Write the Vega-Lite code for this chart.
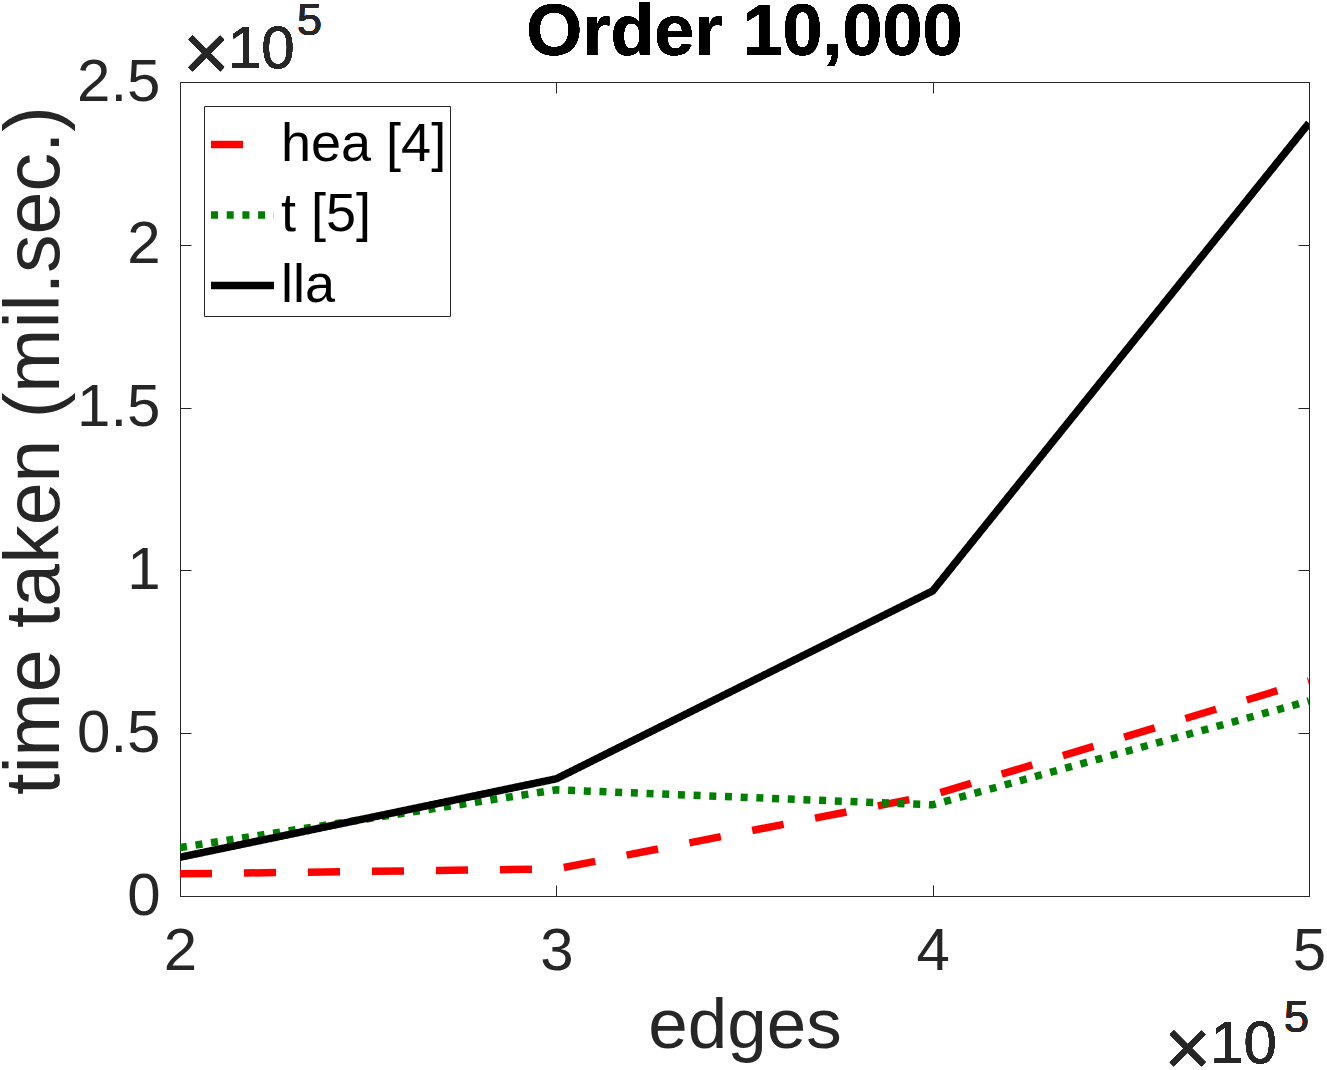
{
  "$schema": "https://vega.github.io/schema/vega-lite/v6.json",
  "width": 1129,
  "height": 814,
  "autosize": {"type": "none"},
  "padding": {"left": 180, "top": 82, "right": 18, "bottom": 174},
  "background": "white",
  "config": {
    "font": "Liberation Sans",
    "view": {"stroke": "#262626", "strokeWidth": 1},
    "axis": {
      "grid": false,
      "domain": false,
      "tickColor": "#262626",
      "tickWidth": 1,
      "tickSize": -11,
      "labelColor": "#262626",
      "labelFont": "Liberation Sans",
      "labelFontSize": 60,
      "labelFlush": false,
      "titleFont": "Liberation Sans",
      "titleFontSize": 71,
      "titleFontWeight": "normal",
      "titleColor": "#262626"
    }
  },
  "data": {
    "values": [
      {"edges": 200000, "time": 6800, "series": "hea [4]"},
      {"edges": 300000, "time": 8300, "series": "hea [4]"},
      {"edges": 400000, "time": 31000, "series": "hea [4]"},
      {"edges": 500000, "time": 66000, "series": "hea [4]"},
      {"edges": 200000, "time": 14900, "series": "t [5]"},
      {"edges": 300000, "time": 32600, "series": "t [5]"},
      {"edges": 400000, "time": 28000, "series": "t [5]"},
      {"edges": 500000, "time": 59900, "series": "t [5]"},
      {"edges": 200000, "time": 11900, "series": "lla"},
      {"edges": 300000, "time": 36000, "series": "lla"},
      {"edges": 400000, "time": 93700, "series": "lla"},
      {"edges": 500000, "time": 237400, "series": "lla"}
    ]
  },
  "resolve": {"axis": {"x": "independent", "y": "independent"}},
  "layer": [
    {
      "mark": {"type": "line", "clip": true},
      "encoding": {
        "x": {
          "field": "edges", "type": "quantitative",
          "scale": {"domain": [200000, 500000], "nice": false, "zero": false},
          "axis": {
            "orient": "bottom",
            "values": [200000, 300000, 400000, 500000],
            "labelExpr": "'' + datum.value / 100000",
            "labelPadding": 37,
            "title": "edges",
            "titlePadding": 10
          }
        },
        "y": {
          "field": "time", "type": "quantitative",
          "scale": {"domain": [0, 250000], "nice": false},
          "axis": {
            "orient": "left",
            "values": [0, 50000, 100000, 150000, 200000, 250000],
            "labelExpr": "'' + datum.value / 100000",
            "labelPadding": 31,
            "title": "time taken (mil.sec.)",
            "titleFontSize": 77,
            "titleBaseline": "alphabetic",
            "titleAnchor": "middle",
            "titleX": -122,
            "titleY": 368
          }
        },
        "color": {
          "field": "series", "type": "nominal",
          "scale": {"domain": ["hea [4]", "t [5]", "lla"], "range": ["#FF0000", "#008000", "#000000"]},
          "legend": {
            "title": null,
            "orient": "none",
            "legendX": 24,
            "legendY": 24,
            "symbolType": "stroke",
            "symbolSize": 3969,
            "symbolStrokeWidth": 7,
            "labelFont": "Liberation Sans",
            "labelFontSize": 54,
            "labelColor": "#000000",
            "labelOffset": 3,
            "labelLimit": 400,
            "strokeColor": "#262626",
            "fillColor": "white",
            "padding": 3,
            "rowPadding": 7.5
          }
        },
        "strokeDash": {
          "field": "series", "type": "nominal",
          "scale": {"domain": ["hea [4]", "t [5]", "lla"], "range": [[32, 32], [7, 8.7], [1, 0]]},
          "legend": {
            "title": null,
            "orient": "none",
            "legendX": 24,
            "legendY": 24,
            "symbolType": "stroke",
            "symbolSize": 3969,
            "symbolStrokeWidth": 7,
            "labelFont": "Liberation Sans",
            "labelFontSize": 54,
            "labelColor": "#000000",
            "labelOffset": 3,
            "labelLimit": 400,
            "strokeColor": "#262626",
            "fillColor": "white",
            "padding": 3,
            "rowPadding": 7.5
          }
        },
        "strokeWidth": {
          "field": "series", "type": "nominal",
          "scale": {"domain": ["hea [4]", "t [5]", "lla"], "range": [7.5, 7.5, 9]},
          "legend": null
        },
        "order": {"field": "edges", "type": "quantitative"}
      }
    },
    {
      "mark": {"type": "line", "opacity": 0},
      "encoding": {
        "x": {
          "field": "edges", "type": "quantitative",
          "axis": {"orient": "top", "values": [200000, 300000, 400000, 500000], "labels": false, "title": null}
        },
        "y": {
          "field": "time", "type": "quantitative",
          "axis": {"orient": "right", "values": [0, 50000, 100000, 150000, 200000, 250000], "labels": false, "title": null}
        },
        "detail": {"field": "series", "type": "nominal"}
      }
    },
    {
      "mark": {"type": "text", "align": "center", "baseline": "alphabetic", "fontSize": 72, "fontWeight": "bold", "color": "#000000", "dy": -27},
      "encoding": {
        "x": {"datum": 350000, "type": "quantitative", "axis": null},
        "y": {"datum": 250000, "type": "quantitative", "axis": null},
        "text": {"value": "Order 10,000"}
      }
    },
    {
      "mark": {"type": "text", "align": "left", "baseline": "alphabetic", "fontSize": 80, "color": "#262626", "dx": 3, "dy": -2},
      "encoding": {
        "x": {"datum": 200000, "type": "quantitative", "axis": null},
        "y": {"datum": 250000, "type": "quantitative", "axis": null},
        "text": {"value": "×"}
      }
    },
    {
      "mark": {"type": "text", "align": "left", "baseline": "alphabetic", "fontSize": 60, "color": "#262626", "dx": 48, "dy": -14},
      "encoding": {
        "x": {"datum": 200000, "type": "quantitative", "axis": null},
        "y": {"datum": 250000, "type": "quantitative", "axis": null},
        "text": {"value": "10"}
      }
    },
    {
      "mark": {"type": "text", "align": "left", "baseline": "alphabetic", "fontSize": 45, "color": "#262626", "dx": 117, "dy": -47},
      "encoding": {
        "x": {"datum": 200000, "type": "quantitative", "axis": null},
        "y": {"datum": 250000, "type": "quantitative", "axis": null},
        "text": {"value": "5"}
      }
    },
    {
      "mark": {"type": "text", "align": "right", "baseline": "alphabetic", "fontSize": 80, "color": "#262626", "dx": -98, "dy": 179},
      "encoding": {
        "x": {"datum": 500000, "type": "quantitative", "axis": null},
        "y": {"datum": 0, "type": "quantitative", "axis": null},
        "text": {"value": "×"}
      }
    },
    {
      "mark": {"type": "text", "align": "right", "baseline": "alphabetic", "fontSize": 60, "color": "#262626", "dx": -32, "dy": 167},
      "encoding": {
        "x": {"datum": 500000, "type": "quantitative", "axis": null},
        "y": {"datum": 0, "type": "quantitative", "axis": null},
        "text": {"value": "10"}
      }
    },
    {
      "mark": {"type": "text", "align": "right", "baseline": "alphabetic", "fontSize": 45, "color": "#262626", "dx": 0, "dy": 136},
      "encoding": {
        "x": {"datum": 500000, "type": "quantitative", "axis": null},
        "y": {"datum": 0, "type": "quantitative", "axis": null},
        "text": {"value": "5"}
      }
    }
  ]
}
